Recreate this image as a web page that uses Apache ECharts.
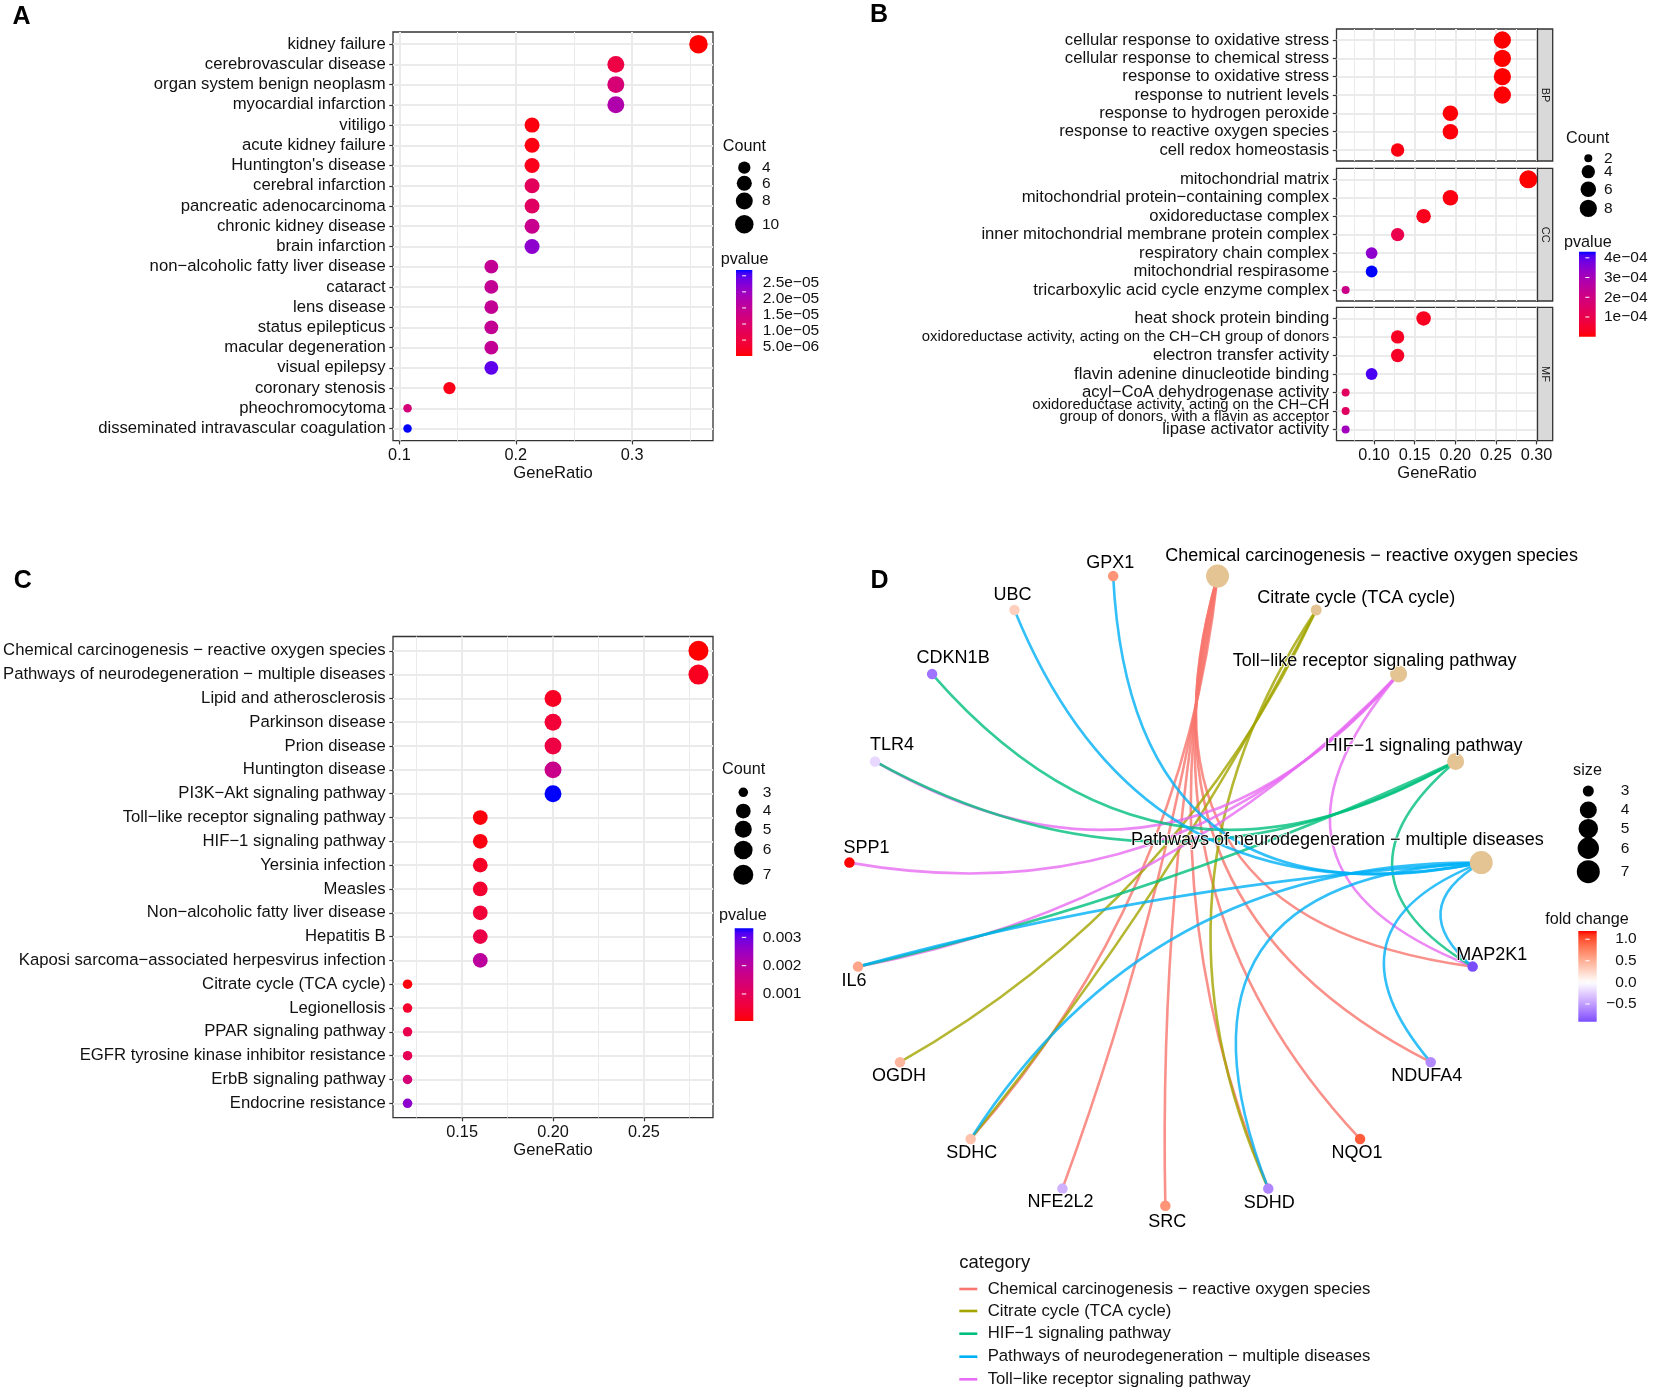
<!DOCTYPE html>
<html><head><meta charset="utf-8">
<script src="https://cdn.jsdelivr.net/npm/echarts@6/dist/echarts.min.js"></script>
<style>html,body{margin:0;padding:0;background:#fff}#c{width:1654px;height:1393px}</style>
</head><body><div id="c"></div><script>
// ================= DATA =================
// Panel A (disease enrichment)
const catA = ['kidney failure','cerebrovascular disease','organ system benign neoplasm','myocardial infarction','vitiligo','acute kidney failure',"Huntington's disease",'cerebral infarction','pancreatic adenocarcinoma','chronic kidney disease','brain infarction','non−alcoholic fatty liver disease','cataract','lens disease','status epilepticus','macular degeneration','visual epilepsy','coronary stenosis','pheochromocytoma','disseminated intravascular coagulation'];
const ratioA = [0.357,0.286,0.286,0.286,0.214,0.214,0.214,0.214,0.214,0.214,0.214,0.179,0.179,0.179,0.179,0.179,0.179,0.143,0.107,0.107];
const countA = [10,8,8,8,6,6,6,6,6,6,6,5,5,5,5,5,5,4,3,3];
const pA = [5e-8,5.4e-6,1.1e-5,1.74e-5,8e-7,1.0e-6,1.5e-6,8.0e-6,8.8e-6,1.4e-5,2.14e-5,1.47e-5,1.47e-5,1.47e-5,1.47e-5,1.47e-5,2.46e-5,1.3e-6,1.13e-5,2.68e-5];
const xTicksA = [0.1,0.2,0.3];
const xTickLabelsA = ['0.1','0.2','0.3'];
const xMinorA = [0.15,0.25,0.35];
const countBreaksA = [4,6,8,10];
const pBreaksA = [2.5e-5,2.0e-5,1.5e-5,1.0e-5,5e-6];
const pBreakLabelsA = ['2.5e−05','2.0e−05','1.5e−05','1.0e−05','5.0e−06'];

// Panel B (GO enrichment, faceted)
const facetB = ['BP','CC','MF'];
const catBP = ['cellular response to oxidative stress','cellular response to chemical stress','response to oxidative stress','response to nutrient levels','response to hydrogen peroxide','response to reactive oxygen species','cell redox homeostasis'];
const ratioBP = [0.258,0.258,0.258,0.258,0.194,0.194,0.129];
const countBP = [8,8,8,8,6,6,4];
const pBP = [1e-7,2e-7,3e-7,5e-6,4e-6,8e-6,1.5e-5];
const catCC = ['mitochondrial matrix','mitochondrial protein−containing complex','oxidoreductase complex','inner mitochondrial membrane protein complex','respiratory chain complex','mitochondrial respirasome','tricarboxylic acid cycle enzyme complex'];
const ratioCC = [0.290,0.194,0.161,0.129,0.097,0.097,0.065];
const countCC = [9,6,5,4,3,3,2];
const pCC = [1e-6,1.5e-5,2.5e-5,1.0e-4,3.45e-4,4.31e-4,2.15e-4];
const catMF = ['heat shock protein binding','oxidoreductase activity, acting on the CH−CH group of donors','electron transfer activity','flavin adenine dinucleotide binding','acyl−CoA dehydrogenase activity','oxidoreductase activity, acting on the CH−CH\ngroup of donors, with a flavin as acceptor','lipase activator activity'];
const ratioMF = [0.161,0.129,0.129,0.097,0.065,0.065,0.065];
const countMF = [5,4,4,3,2,2,2];
const pMF = [3e-5,3.5e-5,4e-5,4.1e-4,1.35e-4,1.4e-4,3.1e-4];
const xTicksB = [0.10,0.15,0.20,0.25,0.30];
const xTickLabelsB = ['0.10','0.15','0.20','0.25','0.30'];
const xMinorB = [0.075,0.125,0.175,0.225,0.275];
const countBreaksB = [2,4,6,8];
const pBreaksB = [4e-4,3e-4,2e-4,1e-4];
const pBreakLabelsB = ['4e−04','3e−04','2e−04','1e−04'];

// Panel C (KEGG enrichment)
const catC = ['Chemical carcinogenesis − reactive oxygen species','Pathways of neurodegeneration − multiple diseases','Lipid and atherosclerosis','Parkinson disease','Prion disease','Huntington disease','PI3K−Akt signaling pathway','Toll−like receptor signaling pathway','HIF−1 signaling pathway','Yersinia infection','Measles','Non−alcoholic fatty liver disease','Hepatitis B','Kaposi sarcoma−associated herpesvirus infection','Citrate cycle (TCA cycle)','Legionellosis','PPAR signaling pathway','EGFR tyrosine kinase inhibitor resistance','ErbB signaling pathway','Endocrine resistance'];
const ratioC = [0.28,0.28,0.20,0.20,0.20,0.20,0.20,0.16,0.16,0.16,0.16,0.16,0.16,0.16,0.12,0.12,0.12,0.12,0.12,0.12];
const countC = [7,7,5,5,5,5,5,4,4,4,4,4,4,4,3,3,3,3,3,3];
const pC = [4.6e-5,2.7e-4,3.0e-4,5.4e-4,7.0e-4,1.7e-3,3.32e-3,1.2e-4,1.5e-4,3.5e-4,4.5e-4,5.5e-4,7.5e-4,2.0e-3,1.2e-4,4.0e-4,8.5e-4,9.5e-4,1.4e-3,2.65e-3];
const xTicksC = [0.15,0.20,0.25];
const xTickLabelsC = ['0.15','0.20','0.25'];
const xMinorC = [0.125,0.175,0.225,0.275];
const countBreaksC = [3,4,5,6,7];
const pBreaksC = [0.003,0.002,0.001];
const pBreakLabelsC = ['0.003','0.002','0.001'];

// Panel D (gene-concept network)
const pathwaysD = ['Chemical carcinogenesis − reactive oxygen species','Citrate cycle (TCA cycle)','HIF−1 signaling pathway','Pathways of neurodegeneration − multiple diseases','Toll−like receptor signaling pathway'];
const pathwayCountD = [7,3,4,7,4];
const pathwayGenesD = [
  ['SDHC','SDHD','NFE2L2','SRC','NQO1','NDUFA4','MAP2K1'],
  ['OGDH','SDHC','SDHD'],
  ['CDKN1B','TLR4','IL6','MAP2K1'],
  ['GPX1','UBC','IL6','SDHC','SDHD','NDUFA4','MAP2K1'],
  ['TLR4','SPP1','IL6','MAP2K1']
];
const genesD = ['GPX1','UBC','CDKN1B','TLR4','SPP1','IL6','OGDH','SDHC','NFE2L2','SRC','SDHD','NQO1','NDUFA4','MAP2K1'];
const foldChangeD = [0.65,0.3,-0.72,-0.2,1.19,0.55,0.45,0.38,-0.4,0.65,-0.62,0.95,-0.6,-0.91];
const circleOrderD = ['Chemical carcinogenesis − reactive oxygen species','Citrate cycle (TCA cycle)','Toll−like receptor signaling pathway','HIF−1 signaling pathway','Pathways of neurodegeneration − multiple diseases','MAP2K1','NDUFA4','NQO1','SDHD','SRC','NFE2L2','SDHC','OGDH','IL6','SPP1','TLR4','CDKN1B','UBC','GPX1'];
const sizeBreaksD = [3,4,5,6,7];
const fcBreaksD = [1.0,0.5,0.0,-0.5];
const fcBreakLabelsD = ['1.0','0.5','0.0','−0.5'];

// ================= STYLE / LAYOUT =================
const FONT = '"Liberation Sans", Arial, Helvetica, sans-serif';
const TXT = '#111111';
const catColorsD = ['#F8766D','#A3A500','#00BF7D','#00B0F6','#E76BF3'];
const edgeDrawOrderD = [0,1,4,2,3];
const labelOffsetD = {
  'Chemical carcinogenesis − reactive oxygen species':[154,-20],
  'Citrate cycle (TCA cycle)':[40,-12],
  'Toll−like receptor signaling pathway':[-24,-13],
  'HIF−1 signaling pathway':[-32,-15],
  'Pathways of neurodegeneration − multiple diseases':[-144,-23],
  MAP2K1:[19,-12], NDUFA4:[-4,14], NQO1:[-3,14], SDHD:[1,14], SRC:[2,16], NFE2L2:[-2,13],
  SDHC:[1,14], OGDH:[-1,14], IL6:[-4,14], SPP1:[17,-15], TLR4:[17,-16], CDKN1B:[21,-16], UBC:[-2,-15], GPX1:[-3,-13]
};

// ---- colour helpers (Lab interpolation like ggplot2) ----
function hexToRgb(h){h=h.replace('#','');return [0,2,4].map(i=>parseInt(h.substr(i,2),16));}
function toLab(hex){
  const [r,g,b]=hexToRgb(hex).map(c=>{c/=255;return c<=0.04045?c/12.92:Math.pow((c+0.055)/1.055,2.4);});
  const X=(0.4124*r+0.3576*g+0.1805*b)/0.95047, Y=(0.2126*r+0.7152*g+0.0722*b), Z=(0.0193*r+0.1192*g+0.9505*b)/1.08883;
  const f=t=>t>0.008856?Math.cbrt(t):7.787*t+16/116;
  const fx=f(X),fy=f(Y),fz=f(Z);
  return [116*fy-16,500*(fx-fy),200*(fy-fz)];
}
function fromLab(l){
  const fy=(l[0]+16)/116, fx=fy+l[1]/500, fz=fy-l[2]/200;
  const fi=t=>{const t3=t*t*t;return t3>0.008856?t3:(t-16/116)/7.787;};
  const X=fi(fx)*0.95047, Y=fi(fy), Z=fi(fz)*1.08883;
  const r=3.2406*X-1.5372*Y-0.4986*Z, g=-0.9689*X+1.8758*Y+0.0415*Z, b=0.0557*X-0.2040*Y+1.0570*Z;
  const c=v=>{v=Math.max(v,0);v=v<=0.0031308?12.92*v:1.055*Math.pow(v,1/2.4)-0.055;return Math.round(Math.min(1,Math.max(0,v))*255);};
  return '#'+[c(r),c(g),c(b)].map(v=>v.toString(16).padStart(2,'0')).join('');
}
function labMix(h1,h2,t){const a=toLab(h1),b=toLab(h2);return fromLab(a.map((v,i)=>v+(b[i]-v)*t));}
const pColor = t => labMix('#FF0000','#0000FF',Math.min(1,Math.max(0,t)));
const pStops = Array.from({length:21},(_,k)=>pColor(k/20));
const fcMin = Math.min(...foldChangeD), fcMax = Math.max(...foldChangeD);
function fcColor(v){
  const m=Math.max(Math.abs(fcMin),Math.abs(fcMax));
  const t=0.5+v/(2*m);
  return t<0.5 ? labMix('#0000FF','#FFFFFF',t/0.5) : labMix('#FFFFFF','#FF0000',(t-0.5)/0.5);
}
// ggplot2 area palette
function areaSize(vals,dmin,dmax){
  const lo=Math.min(...vals), hi=Math.max(...vals);
  return c=>dmin+Math.sqrt(Math.max(0,(c-lo)/(hi-lo)))*(dmax-dmin);
}
function expandRange(arr){const lo=Math.min(...arr),hi=Math.max(...arr),e=0.05*(hi-lo);return [lo-e,hi+e];}
function nearestIndex(arr,v){let bi=0;arr.forEach((a,i)=>{if(Math.abs(a-v)<Math.abs(arr[bi]-v))bi=i;});return bi;}

const grids=[],xAxes=[],yAxes=[],series=[],visualMaps=[],G=[];
function txt(str,x,y,size,align,extra){
  return {type:'text',x:x,y:y,silent:true,z:10,style:Object.assign({text:str,fontSize:size,fontFamily:FONT,fill:TXT,align:align||'left',verticalAlign:'middle'},extra||{})};
}

function addDotPanel(cfg){
  const gi=grids.length;
  grids.push({left:cfg.rect[0],top:cfg.rect[1],width:cfg.rect[2],height:cfg.rect[3],show:true,borderColor:'#333',borderWidth:1.3,backgroundColor:'#fff',containLabel:false,outerBoundsMode:'none'});
  const xi=xAxes.length;
  xAxes.push({gridIndex:gi,type:'value',min:cfg.xr[0],max:cfg.xr[1],position:'bottom',
    axisLine:{show:false,onZero:false},
    axisTick:{show:cfg.showX,customValues:cfg.majors,length:3.7,lineStyle:{color:'#333',width:1.2}},
    axisLabel:{show:cfg.showX,customValues:cfg.majors,margin:6.5,fontSize:16.3,color:TXT,fontFamily:FONT,showMinLabel:true,showMaxLabel:true,hideOverlap:false,formatter:v=>cfg.majorLabels[nearestIndex(cfg.majors,v)]},
    splitLine:{show:true,customValues:cfg.majors,lineStyle:{color:'#EBEBEB',width:2}},
    name:cfg.showX?'GeneRatio':'',nameLocation:'middle',nameGap:24,nameTextStyle:{fontSize:16.6,color:TXT,fontFamily:FONT}});
  xAxes.push({gridIndex:gi,type:'value',min:cfg.xr[0],max:cfg.xr[1],position:'top',
    axisLine:{show:false,onZero:false},axisTick:{show:false,customValues:cfg.minors},axisLabel:{show:false,customValues:cfg.minors},
    splitLine:{show:true,customValues:cfg.minors,lineStyle:{color:'#EBEBEB',width:1}}});
  const yi=yAxes.length;
  const idx=cfg.cats.map((_,i)=>i);
  // multi-line labels first so that the min/max-label overlap pruning never compares them with a neighbour
  const labelIdx=idx.filter(i=>cfg.cats[i].indexOf('\n')>=0).concat(idx.filter(i=>cfg.cats[i].indexOf('\n')<0));
  yAxes.push({gridIndex:gi,type:'value',inverse:true,min:-0.6,max:cfg.cats.length-1+0.6,
    axisLine:{show:false,onZero:false},
    axisTick:{show:true,customValues:idx,length:3.7,lineStyle:{color:'#333',width:1.2}},
    axisLabel:{customValues:labelIdx,margin:7.3,fontSize:16.7,color:TXT,fontFamily:FONT,showMinLabel:true,showMaxLabel:true,hideOverlap:false,
      formatter:v=>cfg.fmt(cfg.cats[Math.round(v)]),rich:cfg.rich||{}},
    splitLine:{show:true,customValues:idx,lineStyle:{color:'#EBEBEB',width:2}}});
  const si=series.length;
  series.push({type:'scatter',xAxisIndex:xi,yAxisIndex:yi,
    data:idx.map(i=>[cfg.ratios[i],i,cfg.pvals[i],cfg.counts[i]]),
    symbolSize:v=>cfg.sizeFn(v[3]),itemStyle:{opacity:1},emphasis:{disabled:true},silent:true,z:3,clip:false,animation:false});
  return si;
}
const plain = s=>s;

// ---- Panel A ----
const sizeA = areaSize(countA,8.5,18.5);
const siA = addDotPanel({rect:[393,32,320,408.7],cats:catA,ratios:ratioA,counts:countA,pvals:pA,xr:expandRange(ratioA),
  majors:xTicksA,majorLabels:xTickLabelsA,minors:xMinorA,showX:true,sizeFn:sizeA,fmt:plain});
visualMaps.push({type:'continuous',show:false,seriesIndex:[siA],dimension:2,min:Math.min(...pA),max:Math.max(...pA),inRange:{color:pStops}});

// ---- Panel B ----
const allCountB = countBP.concat(countCC,countMF);
const allPB = pBP.concat(pCC,pMF);
const sizeB = areaSize(allCountB,8,18);
const xrB = expandRange(ratioBP.concat(ratioCC,ratioMF));
const fmtB = s=>{
  if(s.indexOf('\n')>=0) return s.split('\n').map(l=>'{t|'+l+'}').join('\n');
  if(s.length>50) return '{s|'+s+'}';
  return s;
};
const richB = {
  s:{fontSize:14.9,color:TXT,fontFamily:FONT},
  t:{fontSize:14.8,lineHeight:12,color:TXT,fontFamily:FONT}
};
const rectsB = [[1336.5,29,201,132],[1336.5,168.3,201,132.7],[1336.5,307.3,201,133.4]];
const catsB=[catBP,catCC,catMF], ratiosB=[ratioBP,ratioCC,ratioMF], countsB=[countBP,countCC,countMF], psB=[pBP,pCC,pMF];
const siB = [];
for(let f=0;f<3;f++){
  siB.push(addDotPanel({rect:rectsB[f],cats:catsB[f],ratios:ratiosB[f],counts:countsB[f],pvals:psB[f],xr:xrB,
    majors:xTicksB,majorLabels:xTickLabelsB,minors:xMinorB,showX:f===2,sizeFn:sizeB,fmt:fmtB,rich:richB}));
  const r=rectsB[f];
  G.push({type:'rect',z:5,shape:{x:r[0]+r[2],y:r[1],width:15.2,height:r[3]},style:{fill:'#D9D9D9',stroke:'#333',lineWidth:1.3}});
  G.push({type:'text',z:10,x:r[0]+r[2]+7.6,y:r[1]+r[3]/2,rotation:-Math.PI/2,silent:true,style:{text:facetB[f],fontSize:11,fontFamily:FONT,fill:'#1A1A1A',align:'center',verticalAlign:'middle'}});
}
visualMaps.push({type:'continuous',show:false,seriesIndex:siB,dimension:2,min:Math.min(...allPB),max:Math.max(...allPB),inRange:{color:pStops}});

// ---- Panel C ----
const sizeC = areaSize(countC,9.5,20);
const siC = addDotPanel({rect:[393,636.5,320,481.1],cats:catC,ratios:ratioC,counts:countC,pvals:pC,xr:expandRange(ratioC),
  majors:xTicksC,majorLabels:xTickLabelsC,minors:xMinorC,showX:true,sizeFn:sizeC,fmt:plain});
visualMaps.push({type:'continuous',show:false,seriesIndex:[siC],dimension:2,min:Math.min(...pC),max:Math.max(...pC),inRange:{color:pStops}});

// ---- legends for dot panels ----
function sizeLegend(title,tx,ty,cx,cys,breaks,sizeFn,lx,lalign,tAlign){
  G.push(txt(title,tx,ty,16.2,tAlign||'left'));
  breaks.forEach((b,i)=>{
    G.push({type:'circle',z:10,silent:true,shape:{cx:cx,cy:cys[i],r:sizeFn(b)/2},style:{fill:'#000'}});
    G.push(txt(String(b),lx,cys[i],15.5,lalign||'left'));
  });
}
function colorBar(title,tx,ty,x,y,w,h,colorAtT,vmin,vmax,ticks,labels,lx,lalign,ldy,tAlign){
  G.push(txt(title,tx,ty,16.2,tAlign||'left'));
  const stops=[];
  for(let k=0;k<=24;k++) stops.push({offset:k/24,color:colorAtT(1-k/24)});
  G.push({type:'rect',z:10,silent:true,shape:{x:x,y:y,width:w,height:h},style:{fill:new echarts.graphic.LinearGradient(0,0,0,1,stops)}});
  ticks.forEach((v,i)=>{
    const yy=y+h-(v-vmin)/(vmax-vmin)*h;
    G.push({type:'line',z:11,silent:true,shape:{x1:x+w*0.38,y1:yy,x2:x+w*0.62,y2:yy},style:{stroke:'#fff',lineWidth:1}});
    G.push(txt(labels[i],lx,yy+ldy,15.5,lalign||'left'));
  });
}
sizeLegend('Count',722.7,146.7,744.3,[167.7,183.3,201,224.3],countBreaksA,sizeA,762);
colorBar('pvalue',720.7,260,736,270,16.3,86,pColor,Math.min(...pA),Math.max(...pA),pBreaksA,pBreakLabelsA,762.7,'left',7);
sizeLegend('Count',1566,138.3,1588.3,[158.3,171.7,189.3,208.3],countBreaksB,sizeB,1604);
colorBar('pvalue',1564,242.7,1579,251.7,16.7,85,pColor,Math.min(...allPB),Math.max(...allPB),pBreaksB,pBreakLabelsB,1604,'left',0);
sizeLegend('Count',722,770,743.3,[792.3,811,829.3,850,874.7],countBreaksC,sizeC,762.7);
colorBar('pvalue',719,916,734.7,928.3,18.6,92.7,pColor,Math.min(...pC),Math.max(...pC),pBreaksC,pBreakLabelsC,762.7,'left',0);

// ---- Panel D network ----
const sizeD = areaSize(pathwayCountD,11,23);
const NODE_GENE = 10.5;
const nodeData = circleOrderD.map((name,i)=>{
  const pi=pathwaysD.indexOf(name), gi=genesD.indexOf(name);
  const isCat=pi>=0;
  return {name:name,value:[1,i],
    symbolSize:isCat?sizeD(pathwayCountD[pi]):NODE_GENE,
    itemStyle:{color:isCat?'#E5C494':fcColor(foldChangeD[gi])},
    label:{offset:labelOffsetD[name]||[0,0]}};
});
function arcCurveness(s,t){
  const N=circleOrderD.length;
  let d=((t-s)%N+N)%N, sign=-1;
  if(d>N/2){d=N-d;sign=1;}
  return sign*Math.min(0.7,0.63/Math.tan(Math.PI*d/N));
}
const linksD=[];
edgeDrawOrderD.forEach(pi=>{
  pathwayGenesD[pi].forEach(g=>{
    const s=circleOrderD.indexOf(pathwaysD[pi]), t=circleOrderD.indexOf(g);
    linksD.push({source:pathwaysD[pi],target:g,lineStyle:{color:catColorsD[pi],opacity:0.8,width:2.6,curveness:arcCurveness(s,t)}});
  });
});
series.push({type:'graph',coordinateSystem:'polar',polarIndex:0,layout:'none',data:nodeData,links:linksD,
  edgeSymbol:['none','none'],lineStyle:{width:2.6,opacity:0.8},
  label:{show:true,position:'inside',fontSize:18,fontFamily:FONT,color:'#000',textBorderColor:'#fff',textBorderWidth:1.5},
  emphasis:{disabled:true},silent:true,z:3,animation:false});

// D legends
sizeLegend('size',1587.5,770.7,1588.3,[791,810,828.7,848.3,871.7],sizeBreaksD,sizeD,1625,'center','center');
colorBar('fold change',1587,919.3,1578.3,931,18.4,90.7,t=>fcColor(fcMin+t*(fcMax-fcMin)),fcMin,fcMax,fcBreaksD,fcBreakLabelsD,1636.7,'right',0,'center');
G.push(txt('category',959.3,1262.7,18.5,'left'));
const catLegY=[1289,1311,1333.7,1356.7,1379.3];
pathwaysD.forEach((p,i)=>{
  G.push({type:'line',z:10,silent:true,shape:{x1:959.3,y1:catLegY[i],x2:977.3,y2:catLegY[i]},style:{stroke:catColorsD[i],lineWidth:2.6}});
  G.push(txt(p,987.7,catLegY[i],16.7,'left'));
});

// panel letters
[['A',12.5,17],['B',870,15],['C',13.8,581],['D',870.5,581]].forEach(a=>{
  G.push(txt(a[0],a[1],a[2],25,'left',{fontWeight:'bold',fill:'#000'}));
});

const chart=echarts.init(document.getElementById('c'),null,{renderer:'canvas',width:1654,height:1393});
chart.setOption({
  animation:false,
  backgroundColor:'#fff',
  textStyle:{fontFamily:FONT},
  grid:grids,xAxis:xAxes,yAxis:yAxes,
  polar:{center:[1165.35,888.8],radius:317},
  angleAxis:{type:'category',polarIndex:0,data:circleOrderD,startAngle:90,clockwise:true,show:false},
  radiusAxis:{type:'value',polarIndex:0,min:0,max:1,show:false},
  visualMap:visualMaps,
  series:series,
  graphic:{elements:G}
});
</script></body></html>
